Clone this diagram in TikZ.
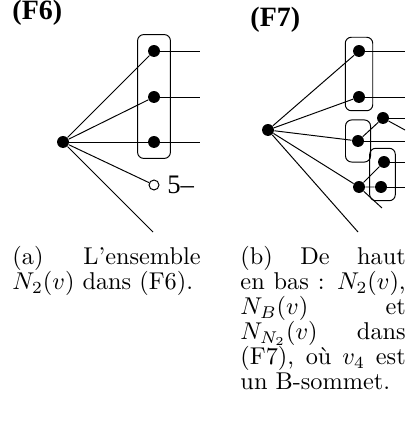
\documentclass[tikz,border=0pt]{standalone}
\usepackage{fontspec}
\usepackage{tikz}
\usetikzlibrary{positioning,fit}
\newfontfamily\titrefont{Liberation Serif}[BoldFont={Liberation Serif Bold}]
\setlength\parindent{0pt}

\begin{document}
\begin{tikzpicture}[
    x=0.4115pt,y=-0.4115pt,
    sommet/.style={circle,fill=black,inner sep=0pt,minimum size=4.9pt},
    libre/.style={circle,draw=black,fill=white,inner sep=0pt,minimum size=4.1pt},
    boite/.style={draw,rounded corners=2.5pt,inner sep=3pt},
    titre/.style={anchor=base west,inner sep=0pt,
      font=\titrefont\bfseries\fontsize{11.5}{13}\selectfont},
    legende/.style={anchor=north west,inner sep=0pt,align=justify,
      font=\fontsize{10}{10.3}\selectfont}
  ]
    \useasboundingbox (0,0) rectangle (406,423);
    % (F6)
    \node[titre] (t6) at (12,20) {(F6)};
    \node[sommet] (c6) at (63,142) {};
    \node[sommet] (a1) at (154,51) {};
    \node[sommet] (a2) at (154,97) {};
    \node[sommet] (a3) at (154,142) {};
    \node[libre] (o6) at (154,185) {};
    \node[right=0pt of o6,inner sep=3pt,font=\titrefont\fontsize{11}{13}\selectfont]
      (cinq) {5–};
    \coordinate (bas6) at (153,232);
    \coordinate (fin6) at (200,0);
    \foreach \n in {a1,a2,a3,o6,bas6} \draw (c6) -- (\n);
    \foreach \n in {a1,a2,a3} \draw (\n) -- (\n -| fin6);
    \node[boite,inner sep=4.1pt,fit=(a1)(a3)] (n6) {};
    % (F7)
    \node[titre] (t7) at (250,27) {(F7)};
    \node[sommet] (c7) at (268,130) {};
    \node[sommet] (b1) at (359,51) {};
    \node[sommet] (b2) at (359,97) {};
    \node[sommet] (b3) at (358,141) {};
    \node[sommet] (e3) at (383,118) {};
    \node[sommet] (b4) at (359,187) {};
    \node[sommet] (d1) at (384,162) {};
    \node[sommet] (d2) at (381,187) {};
    \coordinate (bas7) at (358,232);
    \coordinate (fin7) at (405,0);
    \coordinate (e3bas) at (405,130);
    \coordinate (b4bas) at (382,208);
    \foreach \n in {b1,b2,b3,b4,bas7} \draw (c7) -- (\n);
    \foreach \n in {b1,b2,b3,e3,d1,d2} \draw (\n) -- (\n -| fin7);
    \draw (b3) -- (e3) (e3) -- (e3bas) (b4) -- (d1) (b4) -- (d2) (b4) -- (b4bas);
    \node[boite,fit=(b1)(b2)] (n7) {};
    \node[boite,inner xsep=2.5pt,inner ysep=6pt,fit=(b3)] (nb) {};
    \node[boite,inner xsep=2pt,fit=(d1)(d2)] (nn) {};
    % legendes
    \node[legende,text width=77.4pt] (leg6) at (12,246)
      {(a) L'ensemble $N_2(v)$ dans (F6).};
    \node[legende,text width=68pt] (leg7) at (240,246)
      {(b) De haut\linebreak en bas : $N_2(v)$,\linebreak $N_B(v)$ et\linebreak
       $N_{N_2}(v)$ dans\linebreak (F7), où $v_4$ est\linebreak un B-sommet.};
\end{tikzpicture}
\end{document}
